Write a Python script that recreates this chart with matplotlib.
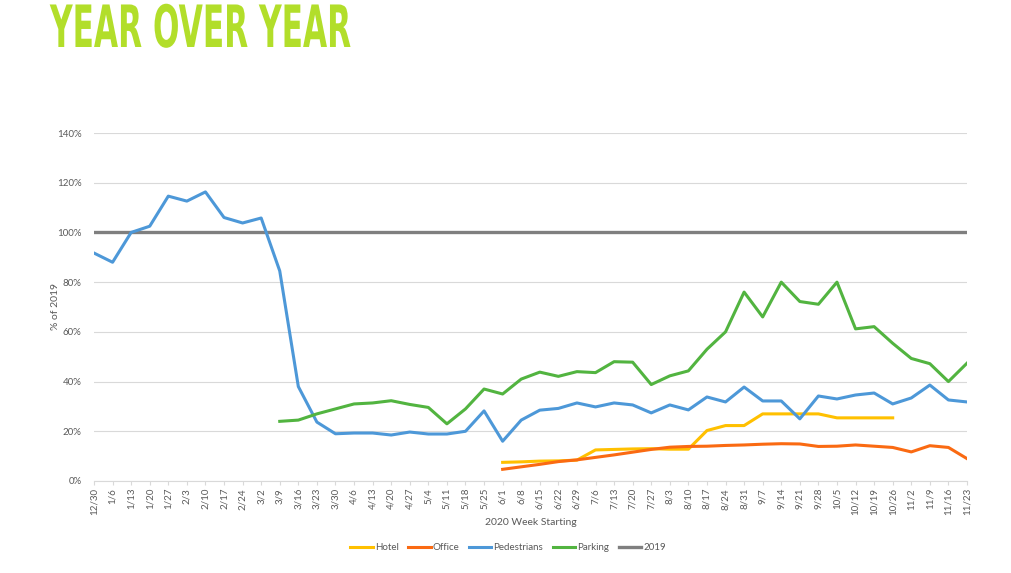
import numpy as np
import matplotlib
matplotlib.use("Agg")
import matplotlib.pyplot as plt
from matplotlib import patheffects
from matplotlib.transforms import Affine2D

weeks = ["12/30", "1/6", "1/13", "1/20", "1/27", "2/3", "2/10", "2/17", "2/24", "3/2",
         "3/9", "3/16", "3/23", "3/30", "4/6", "4/13", "4/20", "4/27", "5/4", "5/11",
         "5/18", "5/25", "6/1", "6/8", "6/15", "6/22", "6/29", "7/6", "7/13", "7/20",
         "7/27", "8/3", "8/10", "8/17", "8/24", "8/31", "9/7", "9/14", "9/21", "9/28",
         "10/5", "10/12", "10/19", "10/26", "11/2", "11/9", "11/16", "11/23"]

# values in % of 2019, None = no data for that week
hotel = [None] * 22 + [7.5, 7.7, 8.0, 8.1, 8.4, 12.5, 12.7, 12.9, 13.0, 12.8,
                       12.8, 20.3, 22.3, 22.3, 27.0, 27.0, 27.0, 27.0, 25.4, 25.4,
                       25.4, 25.4] + [None] * 4
office = [None] * 22 + [4.7, 5.7, 6.7, 7.8, 8.5, 9.5, 10.5, 11.6, 12.7, 13.6,
                        13.9, 14.0, 14.3, 14.5, 14.8, 15.0, 14.9, 13.9, 14.0, 14.5,
                        14.0, 13.5, 11.7, 14.2, 13.5, 9.0]
pedestrians = [91.7, 88.0, 100.0, 102.5, 114.6, 112.6, 116.3, 106.0, 103.8, 105.8,
               84.5, 38.0, 23.7, 19.0, 19.3, 19.3, 18.5, 19.7, 18.9, 18.9,
               20.0, 28.2, 16.0, 24.5, 28.5, 29.2, 31.4, 29.8, 31.4, 30.6,
               27.4, 30.6, 28.6, 33.8, 31.8, 37.8, 32.2, 32.2, 25.0, 34.2,
               33.0, 34.6, 35.4, 31.0, 33.4, 38.6, 32.6, 31.8]
parking = [None] * 10 + [24.0, 24.5, 27.0, 29.0, 31.0, 31.4, 32.3, 30.8, 29.6, 23.0,
                         29.0, 37.0, 35.0, 41.0, 43.8, 42.1, 44.0, 43.6, 48.0, 47.8,
                         38.8, 42.3, 44.3, 53.0, 60.0, 76.0, 66.0, 80.0, 72.2, 71.1,
                         80.0, 61.2, 62.1, 55.4, 49.3, 47.2, 40.0, 47.4]
base_2019 = [100.0] * len(weeks)


def to_frac(vals):
    return np.array([np.nan if v is None else v / 100 for v in vals])


class Squeeze(patheffects.AbstractPathEffect):
    # squash glyphs sideways, no condensed font installed
    def __init__(self, sx):
        super().__init__()
        self.sx = sx

    def draw_path(self, renderer, gc, tpath, affine, rgbFace=None):
        renderer.draw_path(gc, tpath, Affine2D().scale(self.sx, 1.0) + affine, rgbFace)


FONT = "Lato"
GREY = "#595959"

fig = plt.figure(figsize=(10.11, 5.73), dpi=100)
ax = fig.add_axes([94 / 1011, 1 - 481 / 573, (967 - 94) / 1011, (481 - 133) / 573])

x = np.arange(len(weeks))
lw = 2.2
ax.plot(x, to_frac(hotel), color="#ffc000", lw=lw, label="Hotel", zorder=3)
ax.plot(x, to_frac(office), color="#fa6a12", lw=lw, label="Office", zorder=4)
ax.plot(x, to_frac(pedestrians), color="#4d98d8", lw=lw, label="Pedestrians", zorder=3)
ax.plot(x, to_frac(parking), color="#52b440", lw=lw, label="Parking", zorder=3)
ax.plot(x, to_frac(base_2019), color="#7f7f7f", lw=2.4, label="2019", zorder=2)

ax.set_xlim(0, len(weeks) - 1)
ax.set_ylim(0, 1.4)
yt = np.arange(0, 1.41, 0.2)
ax.set_yticks(yt)
ax.set_yticklabels([f"{int(round(v * 100))}%" for v in yt])
ax.set_xticks(x)
ax.set_xticklabels(weeks, rotation=90)

ax.grid(axis="y", color="#d9d9d9", lw=0.8)
ax.set_axisbelow(True)
for s in ["top", "right", "left"]:
    ax.spines[s].set_visible(False)
ax.spines["bottom"].set_color("#d9d9d9")
ax.tick_params(axis="y", length=0, pad=9, labelsize=7, labelcolor=GREY)
ax.tick_params(axis="x", length=3, color="#d9d9d9", pad=2, labelsize=7, labelcolor=GREY)

for lab in ax.get_xticklabels() + ax.get_yticklabels():
    lab.set_family(FONT)

ax.set_ylabel("% of 2019", fontsize=7.5, color=GREY, family=FONT, labelpad=-2)
ax.set_xlabel("2020 Week Starting", fontsize=7.5, color=GREY, family=FONT, labelpad=2)

leg = fig.legend(loc="center", bbox_to_anchor=(508 / 1011, 1 - 548 / 573), ncol=5, frameon=False,
                 handlelength=2.3, handletextpad=0.2, columnspacing=1.0,
                 prop={"family": FONT, "size": 7})
for t in leg.get_texts():
    t.set_color(GREY)

fig.text(50 / 1011, 1 - 47 / 573, "YEAR OVER YEAR", color="#b2de2a", fontsize=42,
         fontweight="bold", family="DejaVu Sans", va="baseline", ha="left",
         path_effects=[Squeeze(0.535)])

fig.savefig("out.png", dpi=100)
